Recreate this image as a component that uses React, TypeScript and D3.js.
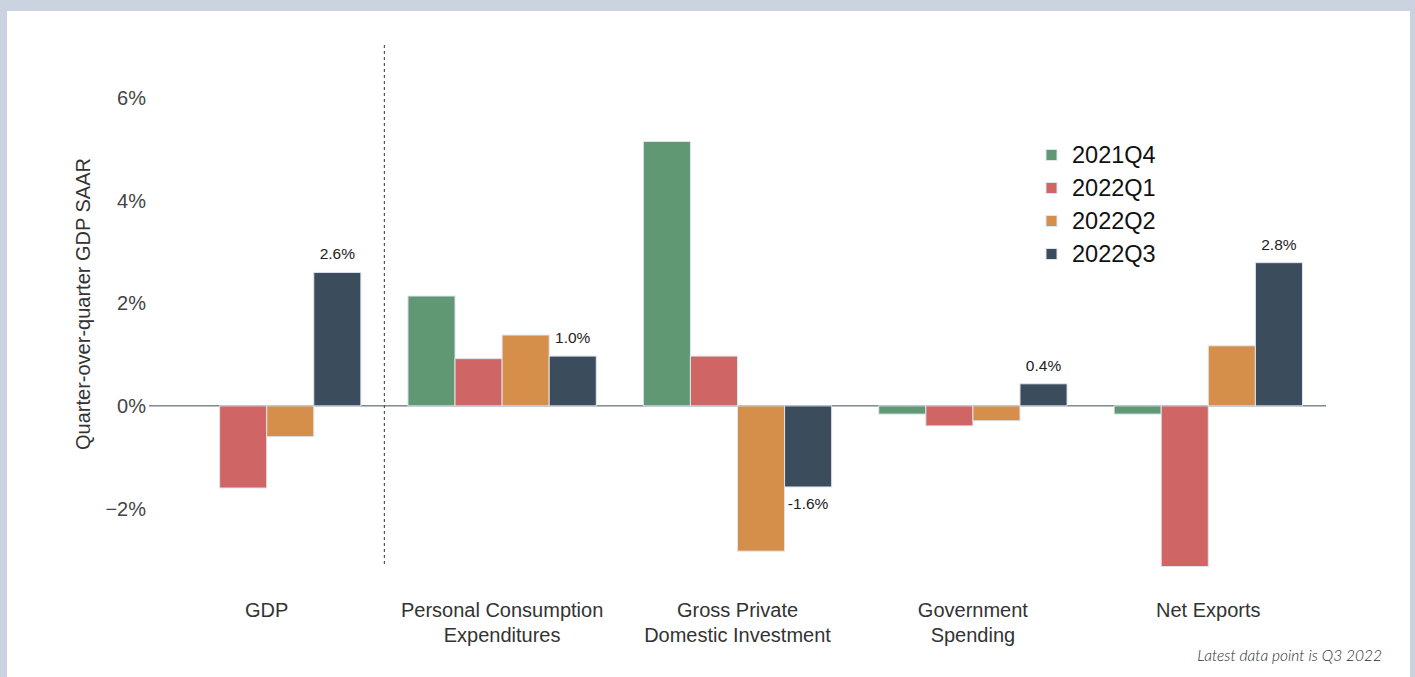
import React from "react";
import * as d3 from "d3";

const categories = ["GDP", "Personal Consumption\nExpenditures", "Gross Private\nDomestic Investment", "Government\nSpending", "Net Exports"];
const seriesNames = ["2021Q4", "2022Q1", "2022Q2", "2022Q3"];
const s2021Q4: (number | null)[] = [null, 2.14, 5.15, -0.16, -0.16];
const s2022Q1: (number | null)[] = [-1.6, 0.92, 0.97, -0.39, -3.13];
const s2022Q2: (number | null)[] = [-0.6, 1.38, -2.83, -0.29, 1.17];
const s2022Q3: (number | null)[] = [2.6, 0.97, -1.58, 0.43, 2.79];
const seriesValues = [s2021Q4, s2022Q1, s2022Q2, s2022Q3];
const q3Labels = ["2.6%", "1.0%", "-1.6%", "0.4%", "2.8%"];
const yTicks = [-2, 0, 2, 4, 6];

const colors = ["#5f9873", "#d06565", "#d58f4b", "#3b4d5d"];

const W = 1415, H = 677;
const FONT = "Liberation Sans, Arial, sans-serif";

export default function App() {
  const x0 = d3.scaleBand<number>().domain(d3.range(categories.length)).range([149, 1326]).paddingInner(0).paddingOuter(0);
  const inner = d3.scaleBand<number>().domain(d3.range(seriesNames.length)).range([x0.bandwidth() * 0.1, x0.bandwidth() * 0.9]);
  const y = d3.scaleLinear().domain([-3.1, 7.03]).range([565, 45]);

  return (
    <div style={{ position: "fixed", left: 0, top: 0, width: W, height: H }}>
      <svg width={W} height={H} style={{ display: "block", fontFamily: FONT }}>
        <rect x={0} y={0} width={W} height={H} fill="#cad3df" />
        <rect x={7} y={11} width={1403} height={H - 11} fill="#ffffff" />

        <line x1={149} x2={1326} y1={y(0)} y2={y(0)} stroke="#3b4d5d" strokeWidth={1} />

        {seriesValues.map((vals, si) =>
          vals.map((v, ci) => {
            if (v === null) return null;
            const bx = (x0(ci) as number) + (inner(si) as number);
            const top = y(Math.max(0, v));
            const bot = y(Math.min(0, v));
            return (
              <rect key={`${si}-${ci}`} x={bx} y={top} width={inner.bandwidth()} height={bot - top}
                fill={colors[si]} stroke="#dfe5ee" strokeWidth={1} />
            );
          })
        )}

        <line x1={x0(1)} x2={x0(1)} y1={45} y2={565} stroke="#555" strokeWidth={1.2} strokeDasharray="3,3" />

        {s2022Q3.map((v, ci) => {
          if (v === null) return null;
          const cx = (x0(ci) as number) + (inner(3) as number) + inner.bandwidth() / 2;
          const ty = v >= 0 ? y(v) - 13 : y(v) + 22;
          return (
            <text key={ci} x={cx} y={ty} textAnchor="middle" fontSize={15.5} fill="#222">{q3Labels[ci]}</text>
          );
        })}

        {yTicks.map((t) => (
          <text key={t} x={146} y={y(t)} dy="0.35em" textAnchor="end" fontSize={20} fill="#444">
            {(t < 0 ? "\u2212" + Math.abs(t) : String(t)) + "%"}
          </text>
        ))}

        <text transform={`translate(90,${304}) rotate(-90)`} textAnchor="middle" fontSize={20} fill="#333">
          Quarter-over-quarter GDP SAAR
        </text>

        {categories.map((c, ci) => {
          const cx = (x0(ci) as number) + x0.bandwidth() / 2;
          return (
            <text key={ci} x={cx} y={617} textAnchor="middle" fontSize={20} fill="#333">
              {c.split("\n").map((line, li) => (
                <tspan key={li} x={cx} dy={li === 0 ? 0 : 25}>{line}</tspan>
              ))}
            </text>
          );
        })}

        {seriesNames.map((n, i) => (
          <g key={n} transform={`translate(1046,${155 + i * 33})`}>
            <rect x={0} y={-5.5} width={11} height={11} fill={colors[i]} stroke="#dfe5ee" strokeWidth={1} />
            <text x={26} y={0} dy="0.35em" fontSize={23.5} fill="#111">{n}</text>
          </g>
        ))}

        <text x={1382} y={661} textAnchor="end" fontSize={15.5} fontStyle="italic" fontWeight={300} fill="#2a2a2a" fontFamily="Lato, sans-serif">
          Latest data point is Q3 2022
        </text>
      </svg>
    </div>
  );
}
